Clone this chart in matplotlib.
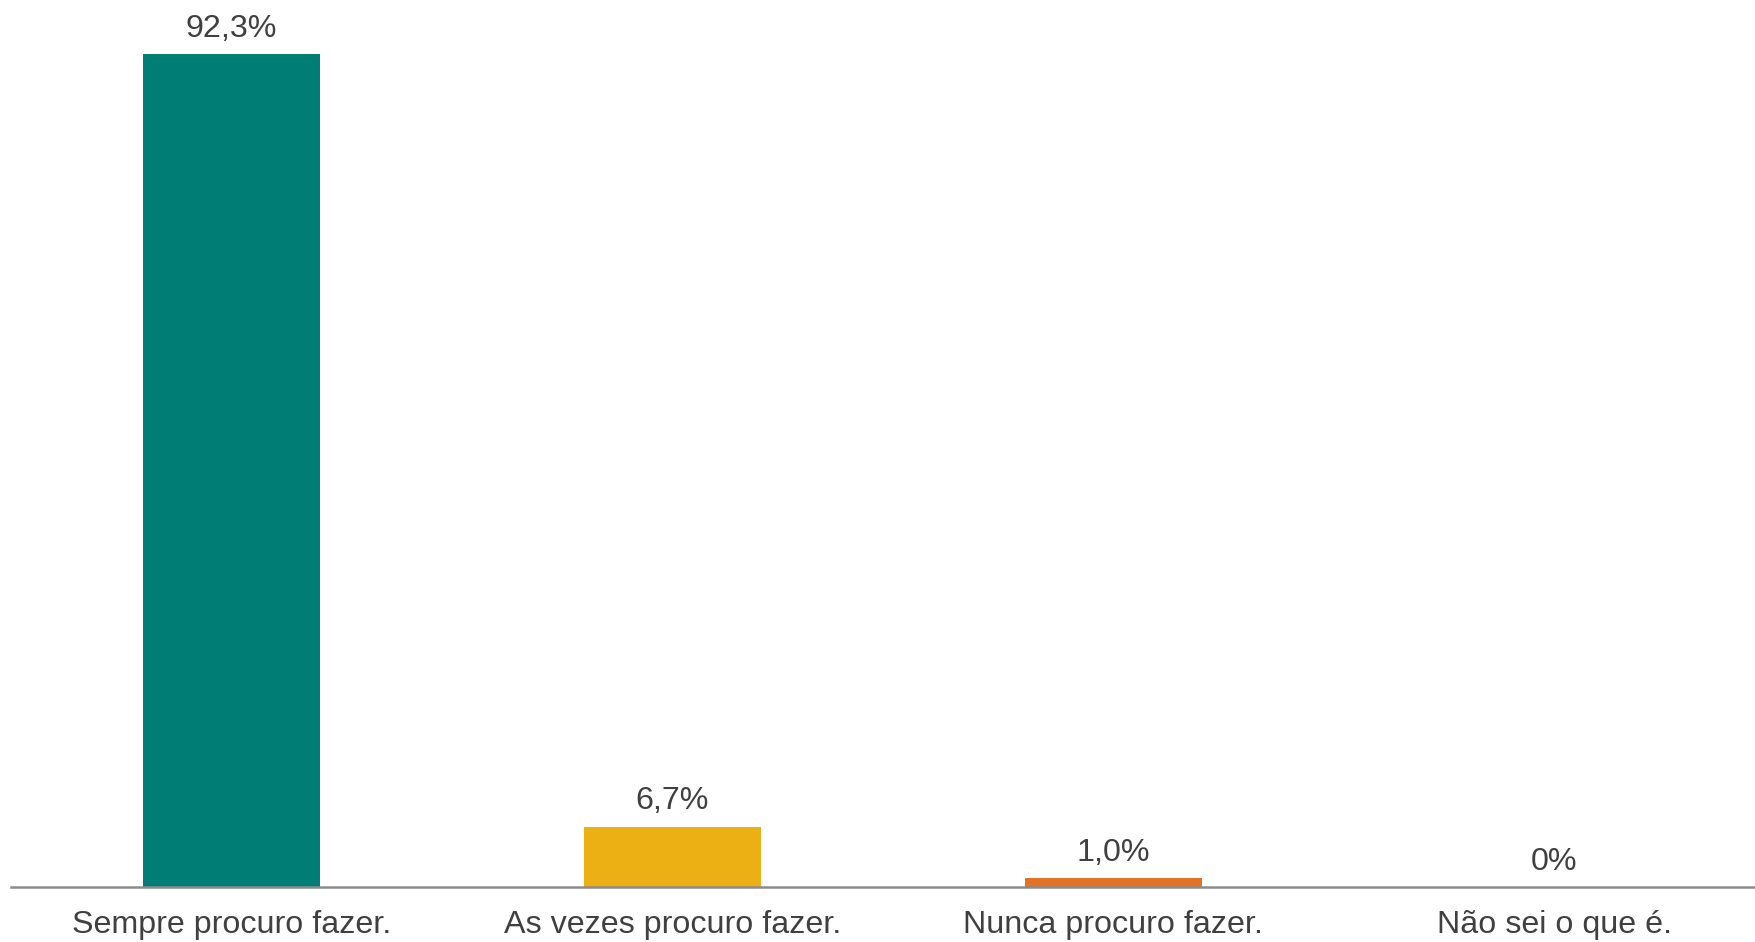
import matplotlib
matplotlib.use("Agg")
import matplotlib.pyplot as plt

categories = ["Sempre procuro fazer.", "As vezes procuro fazer.",
              "Nunca procuro fazer.", "Não sei o que é."]
values = [92.3, 6.7, 1.0, 0.0]
value_labels = ["92,3%", "6,7%", "1,0%", "0%"]
colors = ["#007D75", "#ECB014", "#E37224", "#A0A0A0"]

plt.rcParams['font.family'] = ['Liberation Sans', 'DejaVu Sans']
text_color = "#404040"

W, H = 1756, 942
fig = plt.figure(figsize=(W / 100, H / 100), dpi=100)
left_px, right_px, base_px = 11, 1756, 887
ax = fig.add_axes([left_px / W, (H - base_px) / H, (right_px - left_px) / W, base_px / H])

x = list(range(len(categories)))
ax.bar(x, values, width=0.4, color=colors)
ax.set_xlim(-0.5, 3.5 - 19 / 441)
ax.set_ylim(0, base_px / 9.02)

for xi, v, lab in zip(x, values, value_labels):
    ax.annotate(lab, (xi, v), xytext=(0, 7.5), textcoords="offset points",
                ha="center", va="bottom", fontsize=23.2, color=text_color)

ax.set_xticks(x)
ax.set_xticklabels(categories, fontsize=23.2, color=text_color)
ax.tick_params(axis="x", length=0, pad=16.5)
ax.set_yticks([])
for s in ["top", "right", "left"]:
    ax.spines[s].set_visible(False)
ax.spines["bottom"].set_color("#8C8C8C")
ax.spines["bottom"].set_linewidth(1.8)

fig.savefig("out.png", dpi=100)
